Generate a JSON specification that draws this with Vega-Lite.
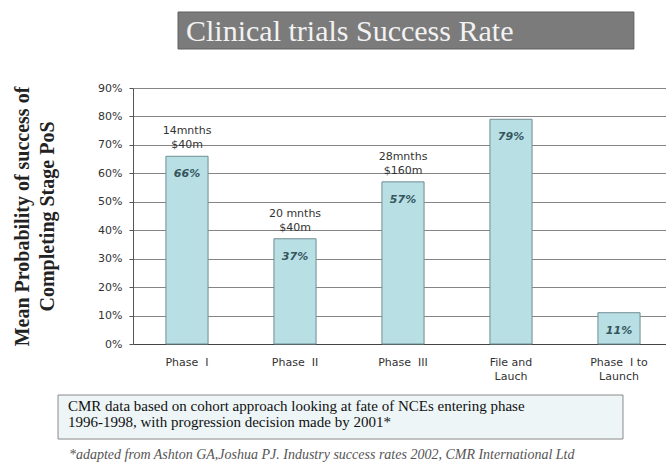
{
  "$schema": "https://vega.github.io/schema/vega-lite/v6.json",
  "padding": {"left": 12, "top": 11, "right": 0, "bottom": 0},
  "background": "white",
  "spacing": 13,
  "config": {"view": {"stroke": null}},
  "vconcat": [
    {
      "width": 534,
      "height": 57,
      "data": {"values": [{"title": "Clinical trials Success Rate"}]},
      "layer": [
        {
          "mark": {"type": "rect", "fill": "#7b7b7b", "stroke": "#5e5e5e", "strokeWidth": 1},
          "encoding": {
            "x": {"datum": 8.43, "type": "quantitative", "scale": {"domain": [0, 100]}, "axis": null},
            "x2": {"datum": 93.8},
            "y": {"datum": 0, "type": "quantitative", "scale": {"domain": [0, 100], "reverse": true}, "axis": null},
            "y2": {"datum": 64.9}
          }
        },
        {
          "mark": {"type": "text", "align": "left", "baseline": "middle", "font": "Liberation Serif", "fontSize": 30, "color": "#f2f2f2"},
          "encoding": {
            "x": {"datum": 9.93, "type": "quantitative"},
            "y": {"datum": 35.1, "type": "quantitative"},
            "text": {"field": "title"}
          }
        }
      ]
    },
    {
      "width": 534,
      "height": 256,
      "data": {
        "values": [
          {"stage": "Phase I", "value": 0.66, "duration": "14mnths", "cost": "$40m"},
          {"stage": "Phase II", "value": 0.37, "duration": "20 mnths", "cost": "$40m"},
          {"stage": "Phase III", "value": 0.57, "duration": "28mnths", "cost": "$160m"},
          {"stage": "File and Lauch", "value": 0.79},
          {"stage": "Phase I to Launch", "value": 0.11}
        ]
      },
      "encoding": {
        "x": {
          "field": "stage",
          "type": "nominal",
          "sort": null,
          "scale": {"range": [0, 540], "paddingInner": 0.61, "paddingOuter": 0.305},
          "axis": {
            "title": null,
            "domain": false,
            "ticks": false,
            "grid": false,
            "labelAngle": 0,
            "labelFont": "DejaVu Sans",
            "labelFontSize": 11,
            "labelColor": "#333333",
            "labelPadding": 12,
            "labelLineHeight": 14,
            "labelExpr": "datum.label == 'File and Lauch' ? ['File and', 'Lauch'] : datum.label == 'Phase I to Launch' ? ['Phase\u00a0 I to', 'Launch'] : replace(datum.label, 'Phase ', 'Phase\u00a0 ')"
          }
        },
        "y": {
          "field": "value",
          "type": "quantitative",
          "scale": {"domain": [0, 0.9]},
          "axis": {
            "title": ["Mean Probability of success of", "Completing Stage PoS"],
            "format": ".0%",
            "values": [0, 0.1, 0.2, 0.3, 0.4, 0.5, 0.6, 0.7, 0.8, 0.9],
            "labelFont": "DejaVu Sans",
            "labelFontSize": 11,
            "labelColor": "#333333",
            "labelPadding": 7,
            "tickSize": 4,
            "tickColor": "#555555",
            "domainColor": "#555555",
            "gridColor": {"condition": {"test": "datum.value === 0", "value": "#444444"}, "value": "#858585"},
            "titleFont": "Liberation Serif",
            "titleFontSize": 20,
            "titleFontWeight": "bold",
            "titleColor": "#222222",
            "titleLineHeight": 25,
            "titlePadding": 40
          }
        }
      },
      "layer": [
        {
          "mark": {"type": "bar", "fill": "#b8dfe4", "stroke": "#6f8d92", "strokeWidth": 1}
        },
        {
          "mark": {"type": "text", "dy": 18, "font": "DejaVu Sans", "fontSize": 11, "fontWeight": "bold", "fontStyle": "italic", "color": "#34555c"},
          "encoding": {"text": {"field": "value", "type": "quantitative", "format": ".0%"}}
        },
        {
          "transform": [{"filter": "isValid(datum.cost)"}],
          "mark": {"type": "text", "dy": -11, "font": "DejaVu Sans", "fontSize": 11, "color": "#333333"},
          "encoding": {"text": {"field": "cost"}}
        },
        {
          "transform": [{"filter": "isValid(datum.duration)"}],
          "mark": {"type": "text", "dy": -25, "font": "DejaVu Sans", "fontSize": 11, "color": "#333333"},
          "encoding": {"text": {"field": "duration"}}
        }
      ]
    },
    {
      "width": 534,
      "height": 66,
      "layer": [
        {
          "data": {"values": [{"box": "note"}]},
          "mark": {"type": "rect", "fill": "#edf5f7", "stroke": "#8a8a8a", "strokeWidth": 1},
          "encoding": {
            "x": {"datum": -14.04, "type": "quantitative", "scale": {"domain": [0, 100]}, "axis": null},
            "x2": {"datum": 91.76},
            "y": {"datum": 0, "type": "quantitative", "scale": {"domain": [0, 100], "reverse": true}, "axis": null},
            "y2": {"datum": 66.7}
          }
        },
        {
          "data": {"values": [{"note": "CMR data based on cohort approach looking at fate of NCEs entering phase\n1996-1998, with progression decision made by 2001*"}]},
          "mark": {"type": "text", "align": "left", "baseline": "top", "lineBreak": "\n", "lineHeight": 16, "font": "Liberation Serif", "fontSize": 15, "color": "#111111"},
          "encoding": {
            "x": {"datum": -12.17, "type": "quantitative"},
            "y": {"datum": 6.8, "type": "quantitative"},
            "text": {"field": "note"}
          }
        },
        {
          "data": {"values": [{"source": "*adapted from Ashton GA,Joshua PJ. Industry success rates 2002, CMR International Ltd"}]},
          "mark": {"type": "text", "align": "left", "baseline": "middle", "font": "Liberation Serif", "fontSize": 14, "fontStyle": "italic", "color": "#555555"},
          "encoding": {
            "x": {"datum": -11.99, "type": "quantitative"},
            "y": {"datum": 90.9, "type": "quantitative"},
            "text": {"field": "source"}
          }
        }
      ]
    }
  ]
}
